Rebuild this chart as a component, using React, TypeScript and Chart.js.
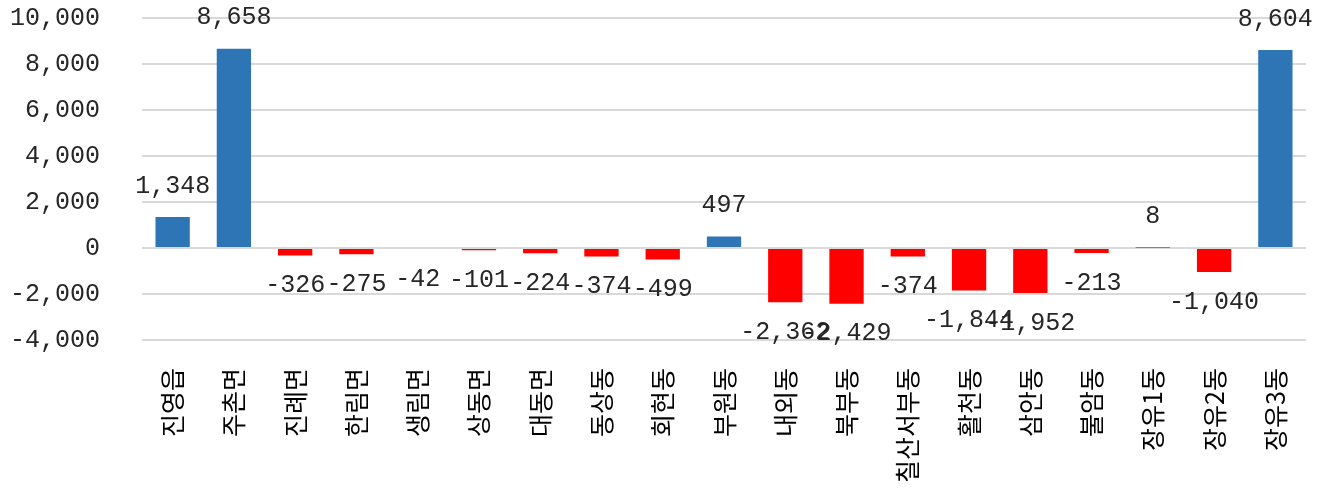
import React, { useEffect, useRef } from "react";
import { Chart, registerables } from "chart.js";

Chart.register(...registerables);

const categories = [
  "진영읍", "주촌면", "진례면", "한림면", "생림면", "상동면", "대동면", "동상동", "회현동", "부원동",
  "내외동", "북부동", "칠산서부동", "활천동", "삼안동", "불암동", "장유1동", "장유2동", "장유3동",
];
const values = [
  1348, 8658, -326, -275, -42, -101, -224, -374, -499, 497,
  -2362, -2429, -374, -1844, -1952, -213, 8, -1040, 8604,
];
const yMin = -4000;
const yMax = 10000;
const yStep = 2000;

const POS_COLOR = "#2E75B6";
const NEG_COLOR = "#FF0000";
const MONO = "'Liberation Mono', 'DejaVu Sans Mono', monospace";

const fmt = (v: number) => (v < 0 ? "-" : "") + Math.abs(v).toLocaleString("en-US");

const labelPlugin = {
  id: "barLabels",
  afterDatasetsDraw(chart: any) {
    const ctx = chart.ctx;
    const meta = chart.getDatasetMeta(0);
    ctx.save();
    ctx.font = `25px ${MONO}`;
    ctx.fillStyle = "#262626";
    ctx.textAlign = "center";
    ctx.textBaseline = "middle";
    meta.data.forEach((bar: any, i: number) => {
      const v = values[i];
      const y = v >= 0 ? bar.y - 31 : bar.y + 30;
      ctx.fillText(fmt(v), bar.x, y);
    });
    ctx.restore();
  },
};

export default function App() {
  const ref = useRef<HTMLCanvasElement | null>(null);
  useEffect(() => {
    if (!ref.current) return;
    const chart = new Chart(ref.current, {
      type: "bar",
      data: {
        labels: categories,
        datasets: [
          {
            data: values,
            backgroundColor: values.map((v) => (v >= 0 ? POS_COLOR : NEG_COLOR)),
            barPercentage: 1,
            categoryPercentage: 0.56,
          },
        ],
      },
      options: {
        animation: false,
        responsive: true,
        maintainAspectRatio: false,
        layout: { padding: { left: 0, right: 23, top: 18, bottom: 0 } },
        plugins: { legend: { display: false }, tooltip: { enabled: false } },
        scales: {
          x: {
            grid: { display: false, drawTicks: false },
            border: { display: false },
            ticks: {
              autoSkip: false,
              maxRotation: 90,
              minRotation: 90,
              padding: 28,
              color: "#000",
              font: { family: "'Noto Sans CJK KR', sans-serif", size: 25 },
            },
            afterFit: (s: any) => {
              s.height = 148;
              s.paddingLeft = 0;
              s.paddingRight = 0;
            },
          },
          y: {
            min: yMin,
            max: yMax,
            ticks: {
              stepSize: yStep,
              padding: 42,
              color: "#262626",
              font: { family: MONO, size: 25 },
              callback: (v: any) => fmt(Number(v)),
            },
            grid: { color: "#d9d9d9", lineWidth: 2, drawTicks: false },
            border: { display: false },
            afterFit: (s: any) => {
              s.width = 142;
              s.paddingTop = 0;
              s.paddingBottom = 0;
            },
          },
        },
      },
      plugins: [labelPlugin],
    });
    return () => chart.destroy();
  }, []);
  return (
    <div style={{ position: "absolute", left: 0, top: 0, width: 1329, height: 488, background: "#fff" }}>
      <canvas ref={ref} />
    </div>
  );
}
